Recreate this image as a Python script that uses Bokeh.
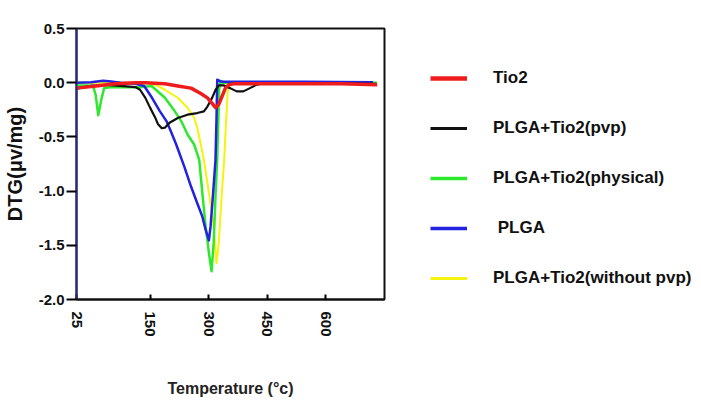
import numpy as np
from bokeh.plotting import figure
from bokeh.layouts import row
from bokeh.models import Range1d, FixedTicker, Legend, LegendItem
from bokeh.embed import file_html
from bokeh.resources import INLINE

# DTG curves: temperature (°C) and DTG (µV/mg)
tio2_t = [25, 58, 92, 125, 142, 188, 221, 255, 280, 297, 309, 318, 326, 334, 343, 351, 364, 439, 540, 640, 732]
tio2_v = [-0.05, -0.03, -0.01, 0.0, 0.0, -0.01, -0.03, -0.05, -0.10, -0.14, -0.19, -0.23, -0.20, -0.13,
          -0.05, -0.02, -0.01, -0.01, -0.01, -0.01, -0.02]

pvp_t = [25, 50, 75, 100, 125, 133, 142, 150, 163, 170, 180, 188, 200, 221, 246, 271, 288, 297, 309, 318,
         326, 339, 355, 372, 389, 406, 422, 439, 540, 731]
pvp_v = [-0.055, -0.03, -0.02, -0.03, -0.04, -0.065, -0.14, -0.23, -0.32, -0.38, -0.42, -0.415, -0.37,
         -0.325, -0.295, -0.28, -0.265, -0.22, -0.14, -0.065, -0.025, -0.025, -0.05, -0.08, -0.08, -0.05,
         -0.02, -0.005, -0.005, -0.01]

phys_t = [25, 42, 53, 57.5, 62, 67, 72, 83, 108, 133, 154, 188, 213, 230, 246, 263, 276, 284, 292.5, 301,
          307.6, 313, 318, 322, 325, 327, 330, 336, 364, 731]
phys_v = [-0.025, -0.025, -0.028, -0.11, -0.30, -0.16, -0.05, -0.043, -0.043, -0.042, -0.03, -0.139,
          -0.262, -0.354, -0.478, -0.57, -0.712, -1.019, -1.328, -1.574, -1.74, -1.482, -1.019, -0.712,
          -0.342, -0.065, 0.018, 0.0, 0.0, 0.0]

plga_t = [25, 50, 70, 80, 100, 125, 140, 155, 175, 192, 203, 217, 238, 255, 271, 284, 292.5, 300.8,
          305, 311.6, 317.7, 320.2, 322.2, 328.5, 338.6, 540, 721]
plga_v = [0.0, 0.005, 0.018, 0.014, 0.0, -0.009, -0.03, -0.139, -0.262, -0.354, -0.446, -0.57, -0.776,
          -0.958, -1.112, -1.236, -1.358, -1.455, -1.328, -1.019, -0.712, -0.342, 0.028, 0.014, 0.009,
          0.009, 0.005]

nopvp_t = [25, 142, 163, 188, 221, 246, 263, 271, 280, 288, 301, 313, 320.2, 326, 334, 340, 345, 349,
           354, 389, 731]
nopvp_v = [0.0, 0.0, -0.018, -0.065, -0.139, -0.231, -0.323, -0.416, -0.57, -0.712, -1.019, -1.328,
           -1.666, -1.482, -1.019, -0.712, -0.342, -0.083, -0.009, 0.0, 0.0]

series_names = ["Tio2", "PLGA+Tio2(pvp)", "PLGA+Tio2(physical)", " PLGA", "PLGA+Tio2(without pvp)"]

x_ticks = [25, 150, 300, 450, 600]
y_ticks = [0.5, 0.0, -0.5, -1.0, -1.5, -2.0]
y_tick_labels = ["0.5", "0.0", "-0.5", "-1.0", "-1.5", "-2.0"]

# The 25-150 °C stretch of the temperature axis is drawn wider than the rest
LOW_STRETCH = 1.508


def axis_pos(t):
    t = np.asarray(t, dtype=float)
    return np.where(t < 150, 150 - (150 - t) * LOW_STRETCH, t)


x_tick_pos = [float(v) for v in axis_pos(x_ticks)]

styles = {
    "Tio2": ("#ee1c1c", 3.5),
    "PLGA+Tio2(pvp)": ("#111111", 2.2),
    "PLGA+Tio2(physical)": ("#2ee82e", 2.5),
    " PLGA": ("#2222e0", 2.5),
    "PLGA+Tio2(without pvp)": ("#f4f40c", 2.0),
}
data = {
    "Tio2": (tio2_t, tio2_v),
    "PLGA+Tio2(pvp)": (pvp_t, pvp_v),
    "PLGA+Tio2(physical)": (phys_t, phys_v),
    " PLGA": (plga_t, plga_v),
    "PLGA+Tio2(without pvp)": (nopvp_t, nopvp_v),
}

# ---- main DTG plot ----
p = figure(width=386, height=400, output_backend="svg", toolbar_location=None,
           x_range=Range1d(x_tick_pos[0], x_tick_pos[0] + 789.3), y_range=Range1d(-2.0, 0.5),
           min_border_left=70, min_border_right=2, min_border_top=28, min_border_bottom=101)
p.xgrid.visible = False
p.ygrid.visible = False
p.outline_line_color = "#111111"
p.outline_line_width = 2
p.background_fill_color = "white"
p.border_fill_color = "white"

for name in ["PLGA+Tio2(without pvp)", "PLGA+Tio2(physical)", " PLGA", "PLGA+Tio2(pvp)", "Tio2"]:
    t, v = data[name]
    color, lw = styles[name]
    p.line(axis_pos(t), v, line_color=color, line_width=lw, line_join="round")

# x axis
xa = p.xaxis[0]
xa.ticker = FixedTicker(ticks=x_tick_pos)
xa.major_label_overrides = {pos: str(lab) for pos, lab in zip(x_tick_pos, x_ticks)}
xa.major_label_orientation = "vertical"
xa.major_tick_in = 5
xa.major_tick_out = 0
xa.minor_tick_line_color = None
xa.major_tick_line_width = 2
xa.axis_line_color = "#111111"
xa.axis_line_width = 2
xa.major_label_text_font = "Liberation Sans"
xa.major_label_text_font_style = "bold"
xa.major_label_text_font_size = "15px"
xa.major_label_text_color = "#111111"
xa.major_label_standoff = 12
xa.axis_label = "Temperature (°c)"
xa.axis_label_text_font = "Liberation Sans"
xa.axis_label_text_font_style = "bold"
xa.axis_label_text_font_size = "16px"
xa.axis_label_text_color = "#222222"
xa.axis_label_standoff = 40

# y axis
ya = p.yaxis[0]
ya.ticker = FixedTicker(ticks=y_ticks)
ya.major_label_overrides = {v: s for v, s in zip(y_ticks, y_tick_labels)}
ya.major_tick_out = 10
ya.major_tick_in = 0
ya.major_tick_line_width = 2
ya.minor_tick_line_color = None
ya.axis_line_color = "#2a2a86"
ya.axis_line_width = 2
ya.major_label_text_font = "Liberation Sans"
ya.major_label_text_font_style = "bold"
ya.major_label_text_font_size = "15px"
ya.major_label_text_color = "#111111"
ya.major_label_standoff = 2
ya.axis_label = "DTG(μv/mg)"
ya.axis_label_text_font = "Liberation Sans"
ya.axis_label_text_font_style = "bold"
ya.axis_label_text_font_size = "20px"
ya.axis_label_text_color = "#111111"
ya.axis_label_standoff = 10

# ---- legend panel (swatch renderers hold no visible points) ----
lg = figure(width=315, height=400, output_backend="svg", toolbar_location=None,
            x_range=Range1d(0, 1), y_range=Range1d(0, 1),
            min_border_left=0, min_border_right=0, min_border_top=0, min_border_bottom=0)
lg.axis.visible = False
lg.xgrid.visible = False
lg.ygrid.visible = False
lg.outline_line_color = None
lg.background_fill_color = "white"
lg.border_fill_color = "white"

items = []
for name in series_names:
    color, lw = styles[name]
    r = lg.line(x=[np.nan], y=[np.nan], line_color=color, line_width=lw + 1)
    items.append(LegendItem(label=name, renderers=[r]))

legend = Legend(
    items=items,
    location=(44, 11),
    orientation="vertical",
    glyph_width=37, glyph_height=20, label_height=20, label_standoff=26, spacing=30,
    padding=0, margin=0,
    border_line_alpha=0, background_fill_alpha=0,
    label_text_font="Liberation Sans", label_text_font_style="bold",
    label_text_font_size="17px", label_text_color="#111111",
)
lg.add_layout(legend)

layout = row(p, lg, spacing=0)
open("out.html", "w").write(file_html(layout, INLINE))
